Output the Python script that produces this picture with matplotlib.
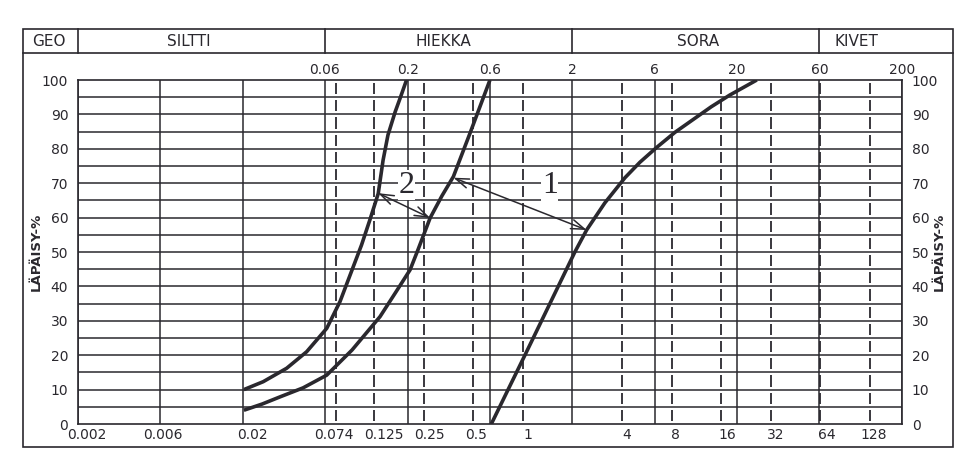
import numpy as np
import matplotlib.pyplot as plt
import matplotlib.transforms as mtransforms
from matplotlib.patches import Rectangle
from matplotlib.lines import Line2D
from matplotlib.ticker import NullLocator

# rakeisuuskäyrät: raekoko (mm) ja läpäisy (%)
curve_a_d = [0.0203, 0.0266, 0.0369, 0.0488, 0.0646, 0.0778, 0.105, 0.118, 0.1327,
             0.142, 0.152, 0.168, 0.182, 0.197]
curve_a_p = [10, 12.3, 16.2, 21.0, 27.8, 35.6, 52, 59.3, 67, 76.7, 84, 90.7, 95.3, 100]
curve_b_d = [0.0203, 0.0262, 0.0337, 0.0464, 0.0646, 0.092, 0.136, 0.170, 0.207, 0.231,
             0.274, 0.323, 0.379, 0.478, 0.632]
curve_b_p = [4, 5.8, 7.9, 10.5, 14.2, 21.5, 31.2, 38.4, 44.8, 50.6, 59.9, 66.3, 71.9, 84.5, 100]
curve_c_d = [0.644, 1.03, 2.07, 2.44, 3.15, 4.17, 5.14, 6.49, 8.39, 10.8, 13.9, 18, 26.3]
curve_c_p = [0, 20, 50, 56.4, 64.3, 71.6, 76.1, 80.4, 84.8, 88.5, 92.2, 95.6, 100]

# nuolet (alku, loppu) ja niiden numerot
arrow1 = ((0.379, 71.6), (2.44, 56.4))
arrow2 = ((0.1327, 67.1), (0.274, 59.9))
label1 = (1.46, 69.2)
label2 = (0.197, 69.4)

# asteikko
major_x = [0.002, 0.0063, 0.02, 0.063, 0.2, 0.63, 2, 6.3, 20, 63, 200]
top_x = [0.063, 0.2, 0.63, 2, 6.3, 20, 63, 200]
top_labels = ["0.06", "0.2", "0.6", "2", "6", "20", "60", "200"]
dashed_x = [0.074, 0.125, 0.25, 0.5, 1, 4, 8, 16, 32, 64, 128]
bottom_x = [0.002, 0.0063, 0.02] + dashed_x
bottom_labels = ["0.002", "0.006", "0.02", "0.074", "0.125", "0.25", "0.5", "1",
                 "4", "8", "16", "32", "64", "128"]
bottom_shift = [9, 3, 10, -3, 10, 6, 3, 5, 5, 4, 6, 5, 6, 4]   # px
header_div = [0.002, 0.063, 2, 63]
header_names = ["GEO", "SILTTI", "HIEKKA", "SORA", "KIVET"]
header_pos = [49, 189, 443, 698, 856]

INK = "#2a282e"
W, H = 966, 468

plt.rcParams["font.family"] = ["DejaVu Sans"]
fig = plt.figure(figsize=(W / 100, H / 100), dpi=100)
fig.patch.set_facecolor("white")
ax = fig.add_axes([78 / W, 1 - 424 / H, 824 / W, 344 / H])
ax.set_xscale("log")
ax.set_xlim(0.002, 200)
ax.set_ylim(0, 100)
ax.minorticks_off()

# ruudukko
for y in range(5, 100, 5):
    ax.axhline(y, color=INK, lw=1.1, zorder=1)
for x in major_x:
    ax.axvline(x, color=INK, lw=1.1, zorder=1)
lows = np.arange(0, 100, 5)
for x in dashed_x:
    ax.vlines([x] * len(lows), lows + 0.9, lows + 4.1, color=INK, lw=1.3, zorder=1)
for s in ax.spines.values():
    s.set_linewidth(1.2)
    s.set_color(INK)

# käyrät
for d, p in [(curve_a_d, curve_a_p), (curve_b_d, curve_b_p), (curve_c_d, curve_c_p)]:
    ax.plot(d, p, color=INK, lw=2.6, solid_capstyle="butt", solid_joinstyle="round", zorder=3)

for (a, b) in [arrow1, arrow2]:
    ax.annotate("", xy=b, xytext=a,
                arrowprops=dict(arrowstyle="<->,head_length=0.8,head_width=0.28",
                                color=INK, lw=1.1, shrinkA=0, shrinkB=0,
                                mutation_scale=12), zorder=4)
for txt, pos in [("1", label1), ("2", label2)]:
    ax.text(pos[0], pos[1], txt, family="Liberation Serif", fontsize=23, color=INK,
            ha="center", va="center", zorder=5,
            bbox=dict(facecolor="white", edgecolor="none", pad=0.5))

# akselien tekstit
ax.set_xticks([])
for x, lab, dx in zip(bottom_x, bottom_labels, bottom_shift):
    tr = ax.get_xaxis_transform() + mtransforms.ScaledTranslation(dx / 100, 0, fig.dpi_scale_trans)
    ax.text(x, -0.012, lab, transform=tr, fontsize=10, color=INK, ha="center", va="top")
ax.set_yticks(range(0, 101, 10))
ax.tick_params(axis="both", length=0, labelsize=10, colors=INK)
ax.tick_params(axis="y", pad=7, labelright=True)
secax = ax.secondary_xaxis("top")
secax.set_xticks(top_x, top_labels)
secax.xaxis.set_minor_locator(NullLocator())
secax.tick_params(which="both", length=0, labelsize=10, colors=INK, pad=2)
secax.spines["top"].set_visible(False)

for xa in [-0.051, 1.045]:
    ax.text(xa, 0.5, "LÄPÄISY-%", transform=ax.transAxes, rotation=90,
            fontsize=9.5, fontweight="bold", color=INK, ha="center", va="center")

# kehys ja otsikkorivi
fig.add_artist(Rectangle((23 / W, 1 - 447 / H), 930 / W, 418 / H, transform=fig.transFigure,
                         fill=False, edgecolor=INK, lw=1.2))
fig.add_artist(Line2D([23 / W, 953 / W], [1 - 53 / H, 1 - 53 / H], transform=fig.transFigure,
                      color=INK, lw=1.2))
blend = mtransforms.blended_transform_factory(ax.transData, fig.transFigure)
for x in header_div:
    fig.add_artist(Line2D([x, x], [1 - 53 / H, 1 - 29 / H], transform=blend, color=INK, lw=1.2))
for name, px in zip(header_names, header_pos):
    fig.text(px / W, 1 - 41 / H, name, fontsize=11, color=INK, ha="center", va="center")

fig.savefig("out.png", dpi=100, facecolor="white")
